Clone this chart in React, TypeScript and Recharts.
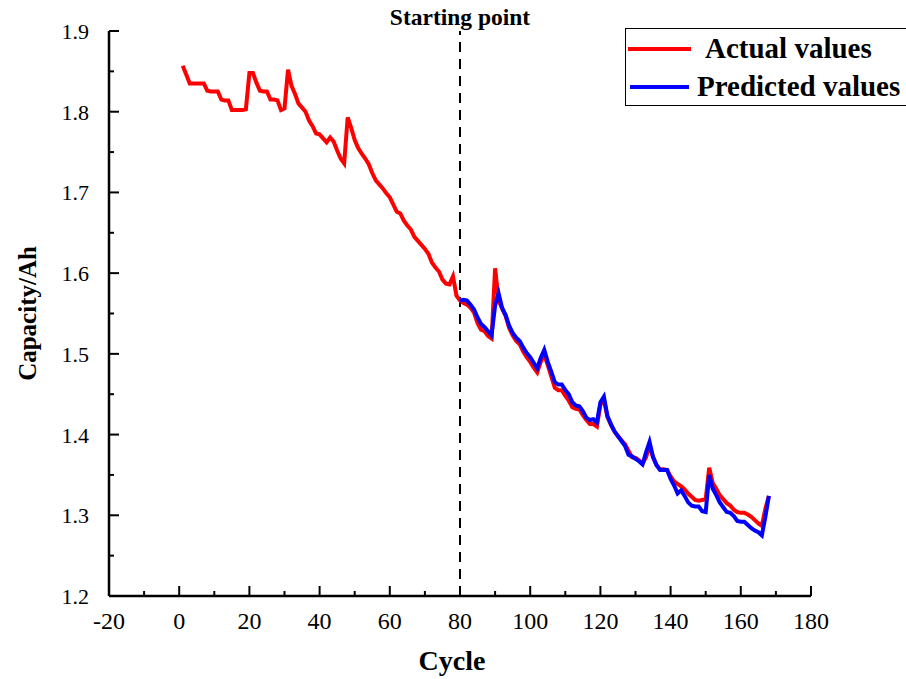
import React from 'react';
import { LineChart, Line, XAxis, YAxis, ReferenceLine, Legend } from 'recharts';

// capacity readings, cycles 1..168
const actualValues = [
  1.857, 1.846, 1.835, 1.835, 1.835, 1.835, 1.835, 1.826, 1.825, 1.825,
  1.825, 1.815, 1.814, 1.814, 1.802, 1.802, 1.802, 1.802, 1.803, 1.848,
  1.848, 1.836, 1.826, 1.825, 1.825, 1.815, 1.815, 1.814, 1.802, 1.804,
  1.852, 1.832, 1.822, 1.810, 1.805, 1.800, 1.789, 1.782, 1.773, 1.772,
  1.767, 1.762, 1.768, 1.763, 1.752, 1.742, 1.736, 1.793, 1.780, 1.765,
  1.755, 1.748, 1.742, 1.735, 1.724, 1.715, 1.710, 1.705, 1.699, 1.694,
  1.685, 1.676, 1.674, 1.665, 1.659, 1.654, 1.645, 1.640, 1.635, 1.630,
  1.624, 1.613, 1.607, 1.602, 1.592, 1.587, 1.586, 1.596, 1.572, 1.566,
  1.563, 1.561, 1.557, 1.551, 1.538, 1.530, 1.528, 1.522, 1.519, 1.606,
  1.566, 1.556, 1.547, 1.532, 1.523, 1.516, 1.512, 1.503, 1.496, 1.490,
  1.483, 1.477, 1.490, 1.499, 1.486, 1.472, 1.458, 1.455, 1.455, 1.448,
  1.442, 1.434, 1.432, 1.431, 1.424, 1.418, 1.413, 1.413, 1.410, 1.437,
  1.443, 1.422, 1.412, 1.404, 1.398, 1.393, 1.388, 1.380, 1.372, 1.371,
  1.368, 1.364, 1.372, 1.386, 1.372, 1.362, 1.357, 1.357, 1.356, 1.348,
  1.342, 1.339, 1.336, 1.332, 1.327, 1.323, 1.319, 1.318, 1.319, 1.320,
  1.359, 1.340, 1.333, 1.325, 1.320, 1.315, 1.312, 1.307, 1.304, 1.303,
  1.303, 1.301, 1.298, 1.294, 1.290, 1.287, 1.308, 1.324,
];

// model output from the starting point (cycle 80) to cycle 168
const predictStart = 80;
const predictedValues = [
  1.566, 1.567, 1.566, 1.561, 1.555, 1.545, 1.537, 1.533, 1.528, 1.523,
  1.560, 1.575, 1.557, 1.548, 1.535, 1.526, 1.520, 1.516, 1.508, 1.501,
  1.496, 1.489, 1.482, 1.495, 1.505, 1.490, 1.478, 1.465, 1.462, 1.462,
  1.455, 1.450, 1.440, 1.436, 1.435, 1.429, 1.421, 1.418, 1.419, 1.415,
  1.440, 1.447, 1.423, 1.413, 1.404, 1.398, 1.392, 1.386, 1.375, 1.373,
  1.370, 1.367, 1.363, 1.378, 1.391, 1.372, 1.362, 1.356, 1.356, 1.356,
  1.345, 1.337, 1.327, 1.331, 1.324, 1.316, 1.312, 1.311, 1.311, 1.305,
  1.304, 1.350, 1.333, 1.325, 1.316, 1.310, 1.304, 1.303, 1.299, 1.293,
  1.292, 1.292, 1.288, 1.284, 1.281, 1.279, 1.275, 1.298, 1.324,
];

const xTicks = [-20, -10, 0, 10, 20, 30, 40, 50, 60, 70, 80, 90, 100, 110, 120, 130, 140, 150, 160, 170, 180];
const yTicks = [1.2, 1.25, 1.3, 1.35, 1.4, 1.45, 1.5, 1.55, 1.6, 1.65, 1.7, 1.75, 1.8, 1.85, 1.9];

const data = actualValues.map((v, i) => {
  const cycle = i + 1;
  const j = cycle - predictStart;
  return {
    cycle,
    actual: v,
    predicted: j >= 0 && j < predictedValues.length ? predictedValues[j] : null,
  };
});

const FONT = '"Liberation Serif", "Times New Roman", serif';

const XTick = ({ x, y, payload }: any) => {
  const major = payload.value % 20 === 0;
  return (
    <g>
      <line x1={x} x2={x} y1={y} y2={y - (major ? 10 : 5)} stroke="#000" strokeWidth={2} />
      {major && (
        <text x={x} y={y + 33} textAnchor="middle" fontSize={24} fontFamily={FONT} fill="#000">
          {payload.value}
        </text>
      )}
    </g>
  );
};

const YTick = ({ x, y, payload }: any) => {
  const major = Math.round(payload.value * 100) % 10 === 0;
  return (
    <g>
      <line x1={x} x2={x + (major ? 10 : 5)} y1={y} y2={y} stroke="#000" strokeWidth={2} />
      {major && (
        <text x={x - 20} y={y + 8} textAnchor="end" fontSize={22} fontFamily={FONT} fill="#000">
          {payload.value.toFixed(1)}
        </text>
      )}
    </g>
  );
};

const LegendBox = () => (
  <div
    style={{
      position: 'relative', width: 320, height: 78, border: '1.5px solid #000',
      boxSizing: 'border-box', background: '#fff', fontFamily: FONT, fontWeight: 'bold', fontSize: 29,
    }}
  >
    <div style={{ position: 'absolute', left: 2, top: 18, width: 63, height: 4, background: '#FF0000' }} />
    <div style={{ position: 'absolute', left: 79, top: 3, lineHeight: '32px', whiteSpace: 'nowrap' }}>Actual values</div>
    <div style={{ position: 'absolute', left: 4, top: 56, width: 59, height: 4, background: '#0000FF' }} />
    <div style={{ position: 'absolute', left: 71, top: 41, lineHeight: '32px', whiteSpace: 'nowrap' }}>Predicted values</div>
  </div>
);

export default function App() {
  return (
    <div style={{ position: 'absolute', left: 0, top: 0, width: 906, height: 679, overflow: 'hidden', background: '#fff' }}>
      <LineChart width={906} height={679} data={data} margin={{ top: 31, right: 95, left: 0, bottom: 0 }}>
        <XAxis
          dataKey="cycle" type="number" domain={[-20, 180]} ticks={xTicks} interval={0}
          height={83} tickSize={0} tickMargin={0} tickLine={false} tick={<XTick />}
          axisLine={{ stroke: '#000', strokeWidth: 2.5 }}
          label={{ value: 'Cycle', position: 'insideBottom', offset: 9, dx: -8, fontSize: 28, fontWeight: 'bold', fontFamily: FONT, fill: '#000' }}
        />
        <YAxis
          type="number" domain={[1.2, 1.9]} ticks={yTicks} interval={0} allowDataOverflow
          width={109} tickSize={0} tickMargin={0} tickLine={false} tick={<YTick />}
          axisLine={{ stroke: '#000', strokeWidth: 2.5 }}
          label={{ value: 'Capacity/Ah', angle: -90, position: 'center', dx: -27, fontSize: 25, fontWeight: 'bold', fontFamily: FONT, fill: '#000' }}
        />
        <ReferenceLine
          x={80} stroke="#000" strokeWidth={2} strokeDasharray="10 7"
          label={{ value: 'Starting point', position: 'top', offset: 6, fontSize: 23.5, fontWeight: 'bold', fontFamily: FONT, fill: '#000' }}
        />
        <Line type="linear" dataKey="actual" stroke="#FF0000" strokeWidth={4} dot={false} isAnimationActive={false} />
        <Line type="linear" dataKey="predicted" stroke="#0000FF" strokeWidth={4} dot={false} isAnimationActive={false} />
        <Legend
          layout="vertical" align="center" verticalAlign="middle"
          wrapperStyle={{ position: 'absolute', left: 625, top: 28, width: 320 }}
          content={() => <LegendBox />}
        />
      </LineChart>
    </div>
  );
}
